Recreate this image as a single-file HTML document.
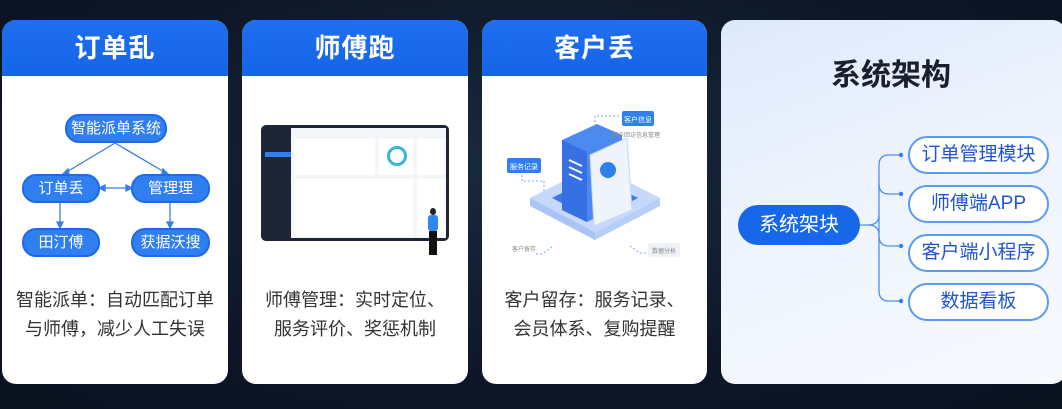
<!DOCTYPE html>
<html><head><meta charset="utf-8"><style>
*{margin:0;padding:0;box-sizing:border-box}
body{width:1062px;height:409px;overflow:hidden;background:radial-gradient(ellipse at 50% 40%,#1a2a40 0%,#0d1727 60%,#0a1220 100%);font-family:"Liberation Sans","Noto Sans CJK SC",sans-serif;position:relative}
.card{position:absolute;top:20px;height:364px;background:#fff;border-radius:14px;overflow:hidden}
.hd{height:56px;background:linear-gradient(180deg,#1f6ef0,#1565e8);color:#fff;font-size:26px;font-weight:bold;text-align:center;line-height:56px;letter-spacing:1px}
.txt{position:absolute;left:0;right:0;top:266px;text-align:center;font-size:18px;color:#333;line-height:29px}
.n{position:absolute;background:#2f7ff0;color:#fff;border-radius:14px;text-align:center;font-size:15px;border:2px solid #1c6ae6}
.a{position:absolute;border:2px solid #5a9af5;border-radius:19px;background:#fff;color:#1f56d0;font-size:19px;text-align:center;line-height:33px}
</style></head><body>
<div class="card" style="left:2px;width:226px">
<div class="hd">订单乱</div>
<svg style="position:absolute;left:0;top:0" width="226" height="364">
<g stroke="#3b7de8" stroke-width="1.3" fill="#3b7de8">
<line x1="113" y1="123" x2="63" y2="153"/><polygon points="60,155 66,149 67,154"/>
<line x1="113" y1="123" x2="164" y2="153"/><polygon points="167,155 161,149 160,154"/>
<line x1="100" y1="168" x2="127" y2="168"/><polygon points="97,168 103,165 103,171"/><polygon points="130,168 124,165 124,171"/>
<line x1="58" y1="182" x2="58" y2="205"/><polygon points="58,208 55,202 61,202"/>
<line x1="168" y1="182" x2="168" y2="205"/><polygon points="168,208 165,202 171,202"/>
</g></svg>
<div class="n" style="left:63px;top:94px;width:102px;height:29px;line-height:25px">智能派单系统</div>
<div class="n" style="left:20px;top:154px;width:78px;height:29px;line-height:25px">订单丢</div>
<div class="n" style="left:129px;top:154px;width:79px;height:29px;line-height:25px">管理理</div>
<div class="n" style="left:20px;top:208px;width:78px;height:29px;line-height:25px">田汀傅</div>
<div class="n" style="left:129px;top:208px;width:79px;height:29px;line-height:25px">获据沃搜</div>
<div class="txt">智能派单：自动匹配订单<br>与师傅，减少人工失误</div>
</div>
<div class="card" style="left:242px;width:226px">
<div class="hd">师傅跑</div>
<div style="position:absolute;left:19px;top:105px;width:188px;height:116px;background:#1e2636;border-radius:5px;padding:2px">
<div style="position:absolute;left:30px;top:3px;right:3px;bottom:3px;background:#f4f6fa"></div>
<div style="position:absolute;left:4px;top:27px;width:26px;height:5px;background:#2f7ff0"></div>
<div style="position:absolute;left:34px;top:14px;width:80px;height:36px;background:#fff"></div>
<div style="position:absolute;left:118px;top:14px;width:34px;height:36px;background:#fff"></div>
<div style="position:absolute;left:126px;top:21px;width:20px;height:20px;border-radius:50%;border:3px solid #38b6d8"></div>
<div style="position:absolute;left:156px;top:14px;width:28px;height:36px;background:#fff"></div>
<div style="position:absolute;left:34px;top:54px;width:118px;height:58px;background:#fff"></div>
<div style="position:absolute;left:156px;top:54px;width:28px;height:58px;background:#fff"></div>
</div>
<div style="position:absolute;left:186px;top:195px;width:10px;height:16px;background:#2f86ee;border-radius:3px"></div>
<div style="position:absolute;left:188px;top:188px;width:6px;height:7px;background:#222;border-radius:50%"></div>
<div style="position:absolute;left:187px;top:211px;width:8px;height:24px;background:#111"></div>
<div class="txt">师傅管理：实时定位、<br>服务评价、奖惩机制</div>
</div>
<div class="card" style="left:482px;width:225px">
<div class="hd">客户丢</div>
<svg style="position:absolute;left:0;top:0" width="225" height="364">
<polygon points="48,178 113,145 178,178 113,212" fill="#c6d9fb"/>
<polygon points="48,178 113,212 113,220 48,186" fill="#a9c4f5"/>
<polygon points="178,178 113,212 113,220 178,186" fill="#b7cff8"/>
<polygon points="70,178 113,156 156,178 113,200" fill="#3a78ea"/>
<polygon points="80,120 115,104 140,115 140,185 105,202 80,190" fill="#4d8af0"/>
<polygon points="80,120 105,132 105,202 80,190" fill="#3670e2"/>
<polygon points="108,135 145,118 150,190 112,206" fill="#eef3fc" stroke="#c9d8f3"/>
<circle cx="126" cy="150" r="8" fill="#2f7ff0"/>
<g stroke="#fff" stroke-width="2"><line x1="87" y1="140" x2="100" y2="146"/><line x1="87" y1="147" x2="100" y2="153"/><line x1="87" y1="154" x2="100" y2="160"/></g>
<g stroke="#7aa8f2" stroke-dasharray="2,2" fill="none"><path d="M113 106V96h26"/><path d="M40 155v6h22v10"/><path d="M70 227l-10 7h-8"/><path d="M148 226l10 7h6"/></g>
<rect x="140" y="91" width="32" height="15" rx="2" fill="#2f7ff0"/>
<rect x="25" y="138" width="34" height="15" rx="2" fill="#2f7ff0"/>
<rect x="166" y="223" width="32" height="14" rx="2" fill="#eef1f5"/>
<text x="156" y="102" font-size="7" fill="#fff" text-anchor="middle">客户信息</text>
<text x="42" y="149" font-size="7" fill="#fff" text-anchor="middle">服务记录</text>
<text x="130" y="117" font-size="6" fill="#888">客户回访信息管理</text>
<text x="30" y="231" font-size="6" fill="#888">客户留存</text>
<text x="182" y="233" font-size="6" fill="#888" text-anchor="middle">数据分析</text>
</svg>
<div class="txt">客户留存：服务记录、<br>会员体系、复购提醒</div>
</div>
<div class="card" style="left:721px;width:345px;background:linear-gradient(160deg,#dde9fb 0%,#eef4fd 45%,#f7f9fd 100%)">
<div style="position:absolute;left:0;width:340px;top:30px;text-align:center;font-size:30px;font-weight:bold;color:#1a1f2b">系统架构</div>
<div style="position:absolute;left:17px;top:185px;width:122px;height:40px;border-radius:20px;background:#1668e8;color:#fff;font-size:20px;text-align:center;line-height:40px">系统架块</div>
<svg style="position:absolute;left:0;top:0" width="345" height="364">
<g stroke="#4f8ef0" stroke-width="1.3" fill="none">
<path d="M178 135h-10q-10 0-10 10V271q0 10 10 10h10"/>
<path d="M158 164q0 10 10 10h10"/>
<path d="M158 216q0 10 10 10h10"/>
<path d="M139 205h8q11 0 11-10"/>
<path d="M147 205q11 0 11 10"/>
</g>
<g fill="#2f7ff0"><circle cx="180" cy="135" r="2.2"/><circle cx="180" cy="174" r="2.2"/><circle cx="180" cy="226" r="2.2"/><circle cx="180" cy="281" r="2.2"/></g>
</svg>
<div class="a" style="left:187px;top:116px;width:141px;height:38px">订单管理模块</div>
<div class="a" style="left:187px;top:165px;width:141px;height:38px">师傅端APP</div>
<div class="a" style="left:187px;top:214px;width:141px;height:38px">客户端小程序</div>
<div class="a" style="left:187px;top:263px;width:141px;height:38px">数据看板</div>
</div>
</body></html>
